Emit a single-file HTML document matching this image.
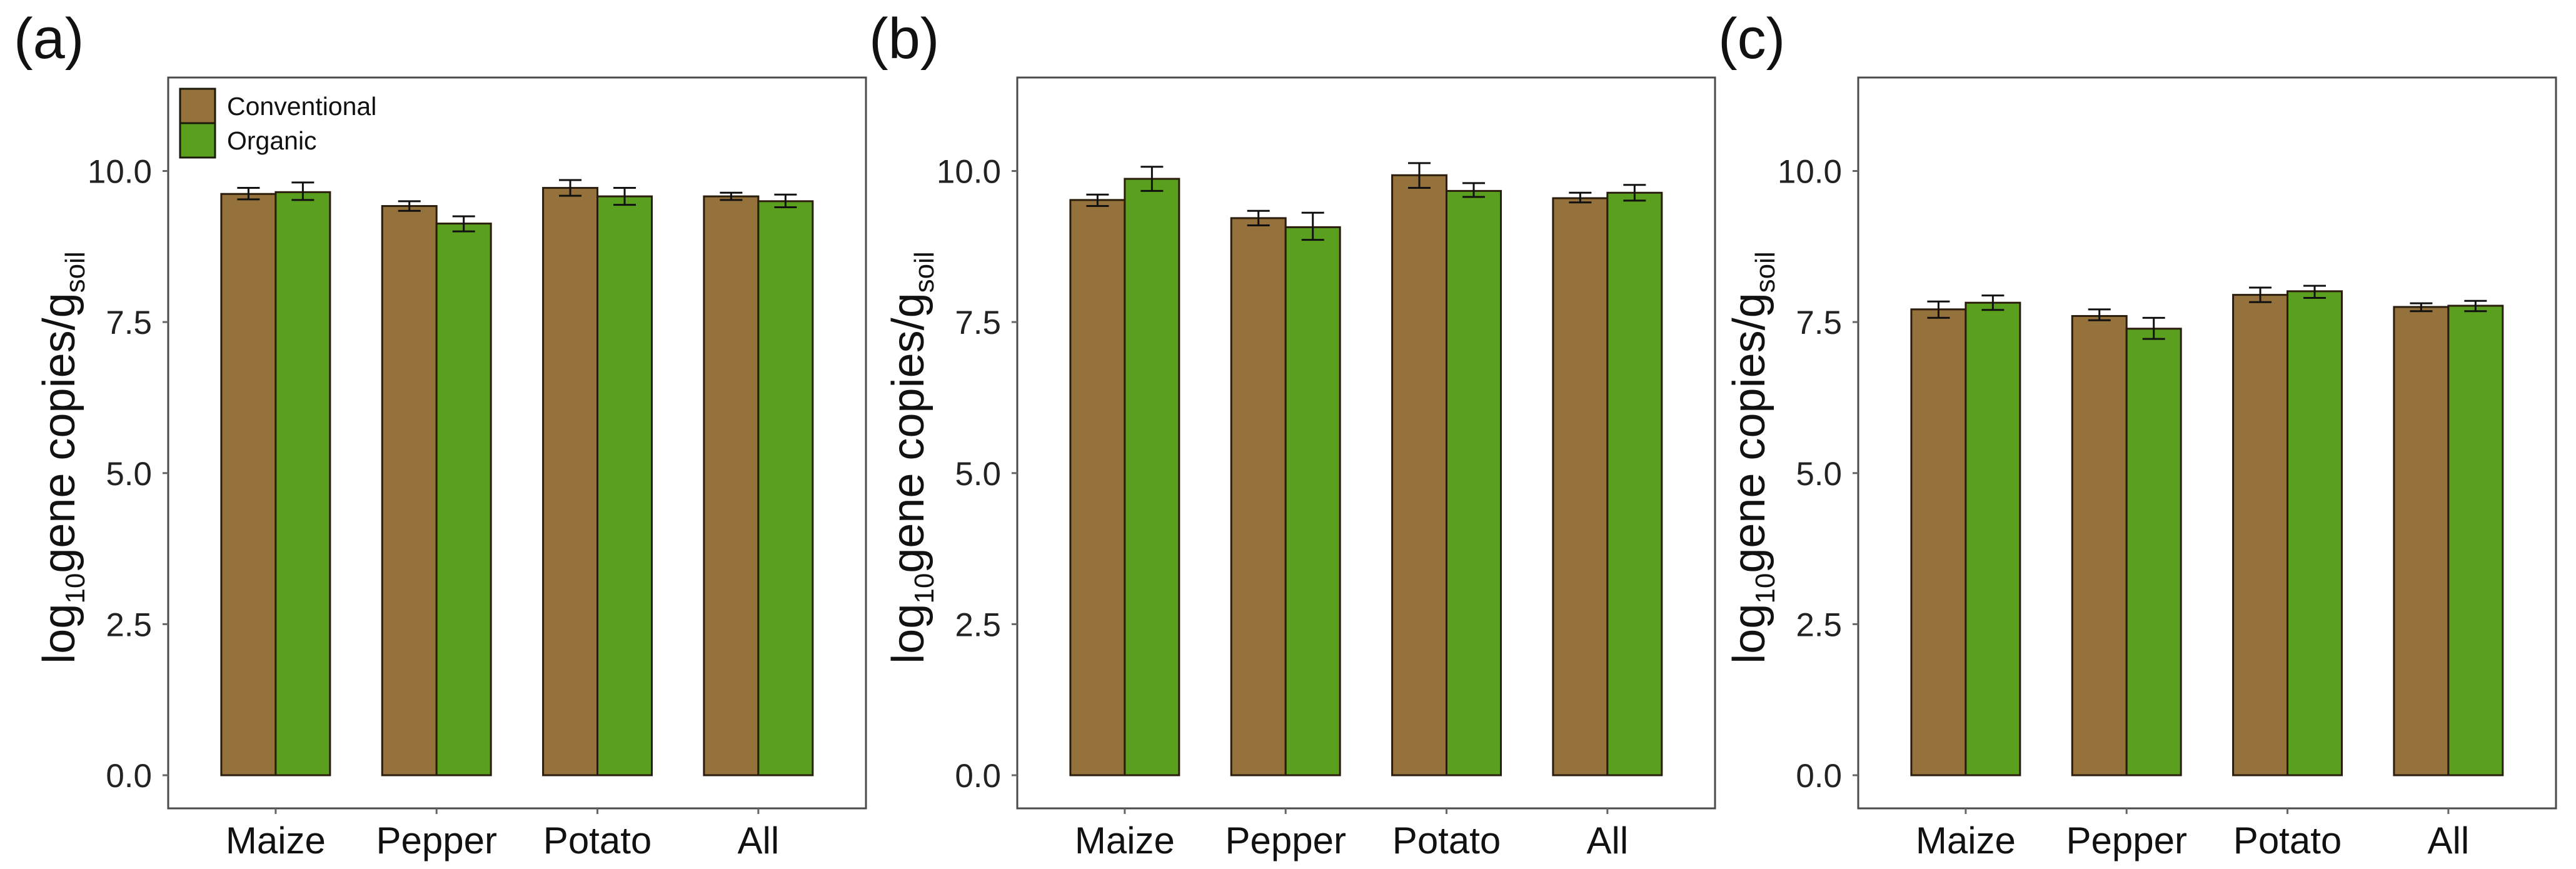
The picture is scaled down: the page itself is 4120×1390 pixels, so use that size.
<!DOCTYPE html>
<html><head><meta charset="utf-8"><style>
html,body{margin:0;padding:0;background:#fff;}
svg{display:block;font-family:"Liberation Sans",Arial,sans-serif;}
</style></head><body>
<svg id="fig" width="4120" height="1390" viewBox="0 0 4120 1390" xmlns="http://www.w3.org/2000/svg"></svg>
<script>
const categories = ["Maize","Pepper","Potato","All"];
const seriesNames = ["Conventional","Organic"];
const yTicks = [0, 2.5, 5, 7.5, 10];
const yTickLabels = ["0.0","2.5","5.0","7.5","10.0"];
const panelLabels = ["(a)","(b)","(c)"];
// panel a
const aConv = [9.62, 9.42, 9.72, 9.58];
const aConvLo = [9.53, 9.34, 9.59, 9.52];
const aConvHi = [9.72, 9.50, 9.85, 9.64];
const aOrg = [9.65, 9.13, 9.58, 9.50];
const aOrgLo = [9.52, 9.00, 9.44, 9.40];
const aOrgHi = [9.81, 9.25, 9.72, 9.61];
// panel b
const bConv = [9.52, 9.22, 9.93, 9.55];
const bConvLo = [9.42, 9.10, 9.72, 9.48];
const bConvHi = [9.61, 9.34, 10.13, 9.64];
const bOrg = [9.87, 9.07, 9.67, 9.64];
const bOrgLo = [9.67, 8.86, 9.57, 9.51];
const bOrgHi = [10.07, 9.31, 9.80, 9.77];
// panel c
const cConv = [7.71, 7.60, 7.95, 7.75];
const cConvLo = [7.57, 7.53, 7.83, 7.68];
const cConvHi = [7.84, 7.71, 8.07, 7.81];
const cOrg = [7.82, 7.39, 8.01, 7.77];
const cOrgLo = [7.70, 7.22, 7.90, 7.68];
const cOrgHi = [7.94, 7.57, 8.10, 7.85];

const panels = [
  {left:269, conv:aConv, convLo:aConvLo, convHi:aConvHi, org:aOrg, orgLo:aOrgLo, orgHi:aOrgHi, legend:true, labelX:22},
  {left:1627, conv:bConv, convLo:bConvLo, convHi:bConvHi, org:bOrg, orgLo:bOrgLo, orgHi:bOrgHi, legend:false, labelX:1390},
  {left:2972, conv:cConv, convLo:cConvLo, convHi:cConvHi, org:cOrg, orgLo:cOrgLo, orgHi:cOrgHi, legend:false, labelX:2748}
];
const NS = "http://www.w3.org/2000/svg";
const svg = document.getElementById('fig');
const W = 1116, TOP = 124, BOT = 1293;
const Y0 = 1240, PXU = 96.65;
const colors = ["#95713C", "#5AA01E"];
function yS(v){ return Y0 - v*PXU; }
function mk(tag, attrs, parent){
  const e = document.createElementNS(NS, tag);
  for (const k in attrs) e.setAttribute(k, attrs[k]);
  (parent||svg).appendChild(e);
  return e;
}
panels.forEach((p, pi) => {
  const g = mk('g', {});
  
  
  const unit = W / 4.337;
  const off = 0.668 * unit;
  const xS = i => p.left + off + i*unit;
  const bw = 0.338 * unit;
  // frame
  const fr = mk('rect', {x:p.left, y:TOP, width:W, height:BOT-TOP, fill:'#fff', stroke:'#4a4a4a', 'stroke-width':3}, g);
  
  
  // y ticks
  yTicks.forEach((t, ti) => {
    const y = yS(t);
    const tk = mk('line', {x1:p.left-9, x2:p.left, y1:y, y2:y, stroke:'#666', 'stroke-width':3}, g);
    
    
    const tl = mk('text', {x:p.left-26, y:y+19, 'font-size':53, 'text-anchor':'end', fill:'#222'}, g);
    tl.textContent = yTickLabels[ti];
    
    
  });
  // bars
  categories.forEach((c, i) => {
    const cx = xS(i);
    const tk = mk('line', {x1:cx, x2:cx, y1:BOT, y2:BOT+9, stroke:'#666', 'stroke-width':3}, g);
    
    
    const xl = mk('text', {x:cx, y:BOT+72, 'font-size':60, 'text-anchor':'middle', fill:'#111'}, g);
    xl.textContent = c;
    
    
    const vals = [p.conv[i], p.org[i]], lo = [p.convLo[i], p.orgLo[i]], hi = [p.convHi[i], p.orgHi[i]];
    [0,1].forEach(s => {
      const x0 = cx - bw + s*bw;
      const r = mk('rect', {x:x0, y:yS(vals[s]), width:bw, height:Y0-yS(vals[s]), fill:colors[s], stroke:'#2a1d0c', 'stroke-width':3}, g);
      
      
      const ex = x0 + bw/2;
      const eg = mk('g', {stroke:'#111', 'stroke-width':3}, g);
      
      
      mk('line', {x1:ex, x2:ex, y1:yS(lo[s]), y2:yS(hi[s])}, eg);
      mk('line', {x1:ex-18, x2:ex+18, y1:yS(lo[s]), y2:yS(lo[s])}, eg);
      mk('line', {x1:ex-18, x2:ex+18, y1:yS(hi[s]), y2:yS(hi[s])}, eg);
    });
  });
  // y title
  const tx = p.left - 150, ty = 732;
  const yt = mk('text', {x:tx, y:ty, 'font-size':72, 'text-anchor':'middle', fill:'#111', transform:'rotate(-90 '+tx+' '+ty+')'}, g);
  
  
  yt.innerHTML = 'log<tspan font-size="44" dy="16">10</tspan><tspan dy="-16">gene copies/g</tspan><tspan font-size="44" dy="16">soil</tspan>';
  // panel label
  const pl = mk('text', {x:p.labelX, y:93, 'font-size':92, fill:'#111'}, g);
  pl.textContent = panelLabels[pi];
  
  
  if (p.legend){
    const lg = mk('g', {}, g);
    
    
    [0,1].forEach(s => {
      const ky = 142 + s*55;
      const k = mk('rect', {x:288, y:ky, width:56, height:55, fill:colors[s], stroke:'#1a1a0a', 'stroke-width':3}, lg);
      
      
      const lt = mk('text', {x:363, y:ky+42, 'font-size':41, fill:'#111'}, lg);
      lt.textContent = seriesNames[s];
      
      
    });
  }
});
</script>
</body></html>
